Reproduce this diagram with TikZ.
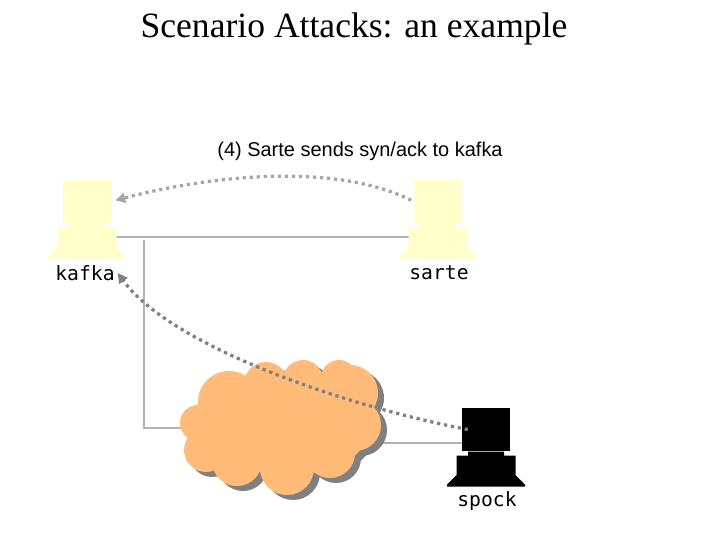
\documentclass[tikz,border=0pt]{standalone}
\usepackage{fontspec}
\setmainfont{Liberation Serif}
\setsansfont{Liberation Sans}
\setmonofont{DejaVu Sans Mono}
\usepackage{tikz}
\usetikzlibrary{
    positioning,
    backgrounds,
    arrows.meta
}
\definecolor{hostyellow}{HTML}{FFFFCC}
\definecolor{cloudorange}{HTML}{FFBB77}
\definecolor{shadowgray}{HTML}{808080}
\definecolor{wiregray}{HTML}{B2B2B2}
\definecolor{lightdots}{HTML}{A6A6A6}
\definecolor{darkdots}{HTML}{808080}
\newcommand{\cloudpuffs}{
    \foreach \cx/\cy/\rad in {
        229/402/31, 198/423/18, 206/450/22, 237/461/25, 287/468/27,
        330/453/25, 355/425/26, 350/393/28, 339/378/18, 303/380/20,
        266/384/22, 282/425/52, 245/425/45, 325/422/45
    } {(\cx,\cy) circle[radius=\rad]}
}
\tikzset{
    >=Stealth,
    monitor/.style={
        fill=#1,
        inner sep=0pt,
        minimum width=34.1pt,
        minimum height=30.6pt
    },
    computerbase/.style={
        inner sep=0pt,
        minimum width=55.5pt,
        minimum height=24.9pt,
        path picture={
            \fill[#1, shift={(path picture bounding box.center)}]
                (-18,-17.5) -- (18,-17.5) -- (18,-13.5) -- (29.5,-13.5)
                -- (29.5,6) -- (39,15.5) -- (39,17.5) -- (-39,17.5)
                -- (-39,15.5) -- (-29.5,6) -- (-29.5,-13.5) -- (-18,-13.5)
                -- cycle;
        }
    },
    hostname/.style={
        font=\ttfamily\fontsize{14}{16}\selectfont,
        inner sep=0pt
    },
    wire/.style={
        wiregray,
        line width=1.4pt
    },
    signal/.style={
        ->,
        >={Triangle[length=7pt, width=7pt]},
        line width=2.3pt,
        dash pattern=on 2.3pt off 2.7pt,
        #1
    }
}
\begin{document}
\begin{tikzpicture}[
    x=0.025cm,
    y=-0.025cm
]

    \useasboundingbox (0,0) rectangle (720,540);

    % Titulo
    \node[font=\fontsize{25.3}{28}\selectfont, inner sep=0pt] (title) at (354,29)
        {Scenario Attacks: an example};
    \node[font=\sffamily\fontsize{14.2}{16}\selectfont, inner sep=0pt] (caption) at (360,151)
        {(4) Sarte sends syn/ack to kafka};

    % Equipos
    \node[monitor=hostyellow]              (kafka)     at (87,201.5) {};
    \node[computerbase=hostyellow, below=0pt of kafka] (kafkabase) {};
    \node[hostname]                        (kafkalabel) at (85,273)  {kafka};

    \node[monitor=hostyellow]              (sarte)     at (438,201.5) {};
    \node[computerbase=hostyellow, below=0pt of sarte] (sartebase) {};
    \node[hostname]                        (sartelabel) at (439,273) {sarte};

    \node[monitor=black]                   (spock)     at (486,429.5) {};
    \node[computerbase=black, below=0pt of spock]      (spockbase) {};
    \node[hostname]                        (spocklabel) at (487,501) {spock};

    % Nube
    \fill[shadowgray, shift={(6,5)}] \cloudpuffs;
    \fill[cloudorange] \cloudpuffs;
    \node[inner sep=0pt, minimum size=60pt] (cloud) at (282,428) {};

    % Cables
    \coordinate (junction)  at (144,240);
    \coordinate (kafkaport) at (87,237);
    \coordinate (sarteport) at (438,237);
    \coordinate (spockport) at (486,443);
    \begin{scope}[on background layer]
        \draw[wire] (kafkaport) -- (sarteport);
        \draw[wire] (junction) |- (cloud.center);
        \draw[wire] (spockport) -- (cloud.center |- spockport);
    \end{scope}

    % Mensajes
    \draw[signal=lightdots, shorten >=3pt, shorten <=2pt]
        (sarte.west) .. controls (330,160) and (200,178) .. (kafka.east);
    \draw[signal=darkdots]
        ([xshift=4.3pt]spock.west) .. controls (340,405) and (170,345) .. ([xshift=2pt]kafkalabel.east);

\end{tikzpicture}
\end{document}
